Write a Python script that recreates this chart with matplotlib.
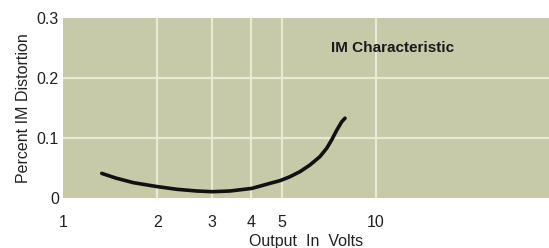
import matplotlib.pyplot as plt
from matplotlib.ticker import FixedLocator, NullLocator

volts = [1.33, 1.48, 1.68, 2.0, 2.31, 2.67, 3.0, 3.42, 4.01, 4.59, 4.94, 5.31,
         5.72, 6.15, 6.62, 6.96, 7.22, 7.49, 7.77, 7.96]
im_pct = [0.041, 0.033, 0.0255, 0.019, 0.0145, 0.0117, 0.0105, 0.0117, 0.016,
          0.0245, 0.029, 0.0355, 0.044, 0.055, 0.069, 0.083, 0.097, 0.113,
          0.127, 0.133]
x_ticks = [1, 2, 3, 4, 5, 10]
y_ticks = [0, 0.1, 0.2, 0.3]
y_labels = ["0", "0.1", "0.2", "0.3"]

plt.rcParams["font.family"] = ["Liberation Sans Narrow", "Liberation Sans", "DejaVu Sans"]

fig = plt.figure(figsize=(5.49, 2.48), dpi=100)
ax = fig.add_axes([63 / 549, 1 - 198 / 248, 1 - 63 / 549, 180 / 248])
ax.set_facecolor("#c6caa8")

ax.set_xscale("log")
ax.set_xlim(1, 35.7)
ax.set_ylim(0, 0.3)

grid_col = "#e9ead3"
for v in [2, 3, 4, 5, 10]:
    ax.axvline(v, color=grid_col, linewidth=1.6, zorder=1)
for v in [0.1, 0.2]:
    ax.axhline(v, color=grid_col, linewidth=1.6, zorder=1)

ax.plot(volts, im_pct, color="#111111", linewidth=2.6,
        solid_capstyle="round", solid_joinstyle="round", zorder=3)

ax.xaxis.set_major_locator(FixedLocator(x_ticks))
ax.xaxis.set_minor_locator(NullLocator())
ax.set_xticklabels([str(t) for t in x_ticks])
ax.set_yticks(y_ticks)
ax.set_yticklabels(y_labels)
ax.tick_params(axis="both", length=0, labelsize=11.5, colors="#222222")
ax.tick_params(axis="x", pad=12)
ax.tick_params(axis="y", pad=3)
for s in ax.spines.values():
    s.set_visible(False)

ax.set_xlabel("Output  In  Volts", fontsize=11.5, color="#222222", labelpad=3)
ax.set_ylabel("Percent IM Distortion", fontsize=11.5, color="#222222", labelpad=4)

ax.text(0.679, 0.834, "IM Characteristic", transform=ax.transAxes,
        ha="center", va="center", fontsize=11, fontweight="bold", color="#1a1a1a")

fig.savefig("out.png", dpi=100)
